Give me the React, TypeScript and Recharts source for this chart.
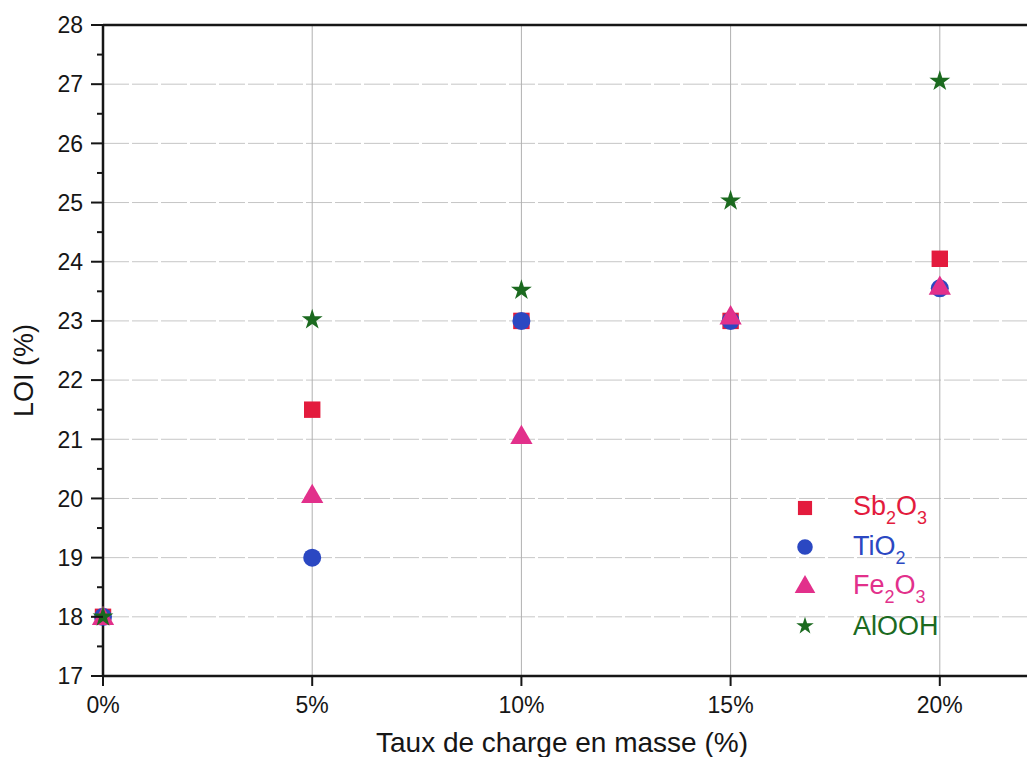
import React from "react";
import {
  ScatterChart,
  Scatter,
  XAxis,
  YAxis,
  CartesianGrid,
  Legend,
  ReferenceLine,
  Symbols,
} from "recharts";

// taux de charge (%)
const loadings = [0, 5, 10, 15, 20];

// LOI (%) per filler
const sb2o3 = [18, 21.5, 23, 23, 24.05];
const tio2 = [18, 19, 23, 23, 23.55];
const fe2o3 = [17.97, 20.03, 21.03, 23.05, 23.55];
const alooh = [18, 23.02, 23.52, 25.03, 27.05];

const xTicks = [0, 5, 10, 15, 20];
const xGrid = [0, 5, 10, 15, 20, 25];
const yMajor = [17, 18, 19, 20, 21, 22, 23, 24, 25, 26, 27, 28];
const yTicks = [
  17, 17.5, 18, 18.5, 19, 19.5, 20, 20.5, 21, 21.5, 22, 22.5, 23, 23.5, 24,
  24.5, 25, 25.5, 26, 26.5, 27, 27.5, 28,
];

const FONT = "'Liberation Sans', Arial, sans-serif";
const INK = "#161616";

type Series = {
  name: string;
  values: number[];
  color: string;
  shape: "square" | "circle" | "triangle" | "star";
  size: number;
  legendSize: number;
};

const series: Series[] = [
  { name: "Sb2O3", values: sb2o3, color: "#e31b3d", shape: "square", size: 270, legendSize: 200 },
  { name: "TiO2", values: tio2, color: "#2b48c2", shape: "circle", size: 255, legendSize: 190 },
  { name: "Fe2O3", values: fe2o3, color: "#e2308b", shape: "triangle", size: 215, legendSize: 185 },
  { name: "AlOOH", values: alooh, color: "#1b6a1f", shape: "star", size: 135, legendSize: 95 },
];

const toPoints = (vals: number[]) => loadings.map((x, i) => ({ x, y: vals[i] }));

// digits drawn as subscripts (Sb2O3 -> Sb₂O₃)
const Formula = ({ text }: { text: string }) => (
  <>
    {text.split(/(\d)/).map((part, i) =>
      /\d/.test(part) ? (
        <span key={i} style={{ fontSize: 18, position: "relative", top: 9 }}>
          {part}
        </span>
      ) : (
        <span key={i}>{part}</span>
      )
    )}
  </>
);

const LegendBox = () => (
  <div style={{ fontFamily: FONT }}>
    {series.map((s) => (
      <div key={s.name} style={{ display: "flex", alignItems: "center", height: 39.5 }}>
        <svg width={30} height={30}>
          <Symbols cx={15} cy={15} type={s.shape} size={s.legendSize} fill={s.color} />
        </svg>
        <span style={{ marginLeft: 33, color: s.color, fontSize: 27, lineHeight: "28px" }}>
          <Formula text={s.name} />
        </span>
      </div>
    ))}
  </div>
);

const YTick = (props: any) => {
  const { x, y, payload } = props;
  const v = payload.value;
  const major = Number.isInteger(v);
  return (
    <g>
      <line x1={x} x2={x - (major ? 12 : 6)} y1={y} y2={y} stroke={INK} strokeWidth={2} />
      {major && (
        <text x={x - 20} y={y} dy="0.36em" textAnchor="end" fontSize={23} fill={INK} fontFamily={FONT}>
          {v}
        </text>
      )}
    </g>
  );
};

const YTitle = (props: any) => {
  const { viewBox } = props;
  const x = viewBox.x + 25;
  const y = viewBox.y + viewBox.height / 2 + 20;
  return (
    <text
      x={x}
      y={y}
      transform={`rotate(-90 ${x} ${y})`}
      textAnchor="middle"
      fontSize={27}
      fill={INK}
      fontFamily={FONT}
    >
      LOI (%)
    </text>
  );
};

const marker = (s: Series) => (p: any) =>
  <Symbols cx={p.cx} cy={p.cy} type={s.shape} size={s.size} fill={s.color} />;

export default function App() {
  return (
    <div style={{ width: 1027, height: 757, marginBottom: -8, overflow: "hidden", background: "#fff" }}>
      <ScatterChart
        width={1160}
        height={757}
        margin={{ top: 17, right: 19, bottom: 0, left: 0 }}
        style={{ fontFamily: FONT }}
      >
        <CartesianGrid
          vertical={false}
          stroke="#c6c6c6"
          strokeDasharray="26 3"
          horizontalValues={yMajor}
        />
        <CartesianGrid horizontal={false} stroke="#b0b0b0" verticalValues={xGrid} />
        <XAxis
          type="number"
          dataKey="x"
          domain={[0, 25]}
          ticks={xTicks}
          interval={0}
          tickFormatter={(v) => `${v}%`}
          axisLine={{ stroke: INK, strokeWidth: 2.5 }}
          tickLine={{ stroke: INK, strokeWidth: 2 }}
          tickSize={10}
          tickMargin={11}
          tick={{ fontSize: 23, fill: INK }}
          height={89}
          label={{
            value: "Taux de charge en masse (%)",
            position: "insideBottom",
            offset: 13,
            dx: -64,
            fontSize: 28,
            fill: INK,
          }}
        />
        <YAxis
          type="number"
          dataKey="y"
          domain={[17, 28]}
          ticks={yTicks}
          interval={0}
          tick={<YTick />}
          tickLine={false}
          tickSize={0}
          tickMargin={0}
          width={95}
          axisLine={{ stroke: INK, strokeWidth: 2.5 }}
          label={{ content: (p: any) => <YTitle {...p} /> }}
        />
        <ReferenceLine y={28} stroke={INK} strokeWidth={2.5} />
        {series.map((s) => (
          <Scatter
            key={s.name}
            name={s.name}
            data={toPoints(s.values)}
            fill={s.color}
            shape={marker(s)}
            isAnimationActive={false}
          />
        ))}
        <Legend
          layout="vertical"
          align="center"
          verticalAlign="middle"
          content={() => <LegendBox />}
          wrapperStyle={{ left: 782, top: 480, width: 220 }}
        />
      </ScatterChart>
    </div>
  );
}
